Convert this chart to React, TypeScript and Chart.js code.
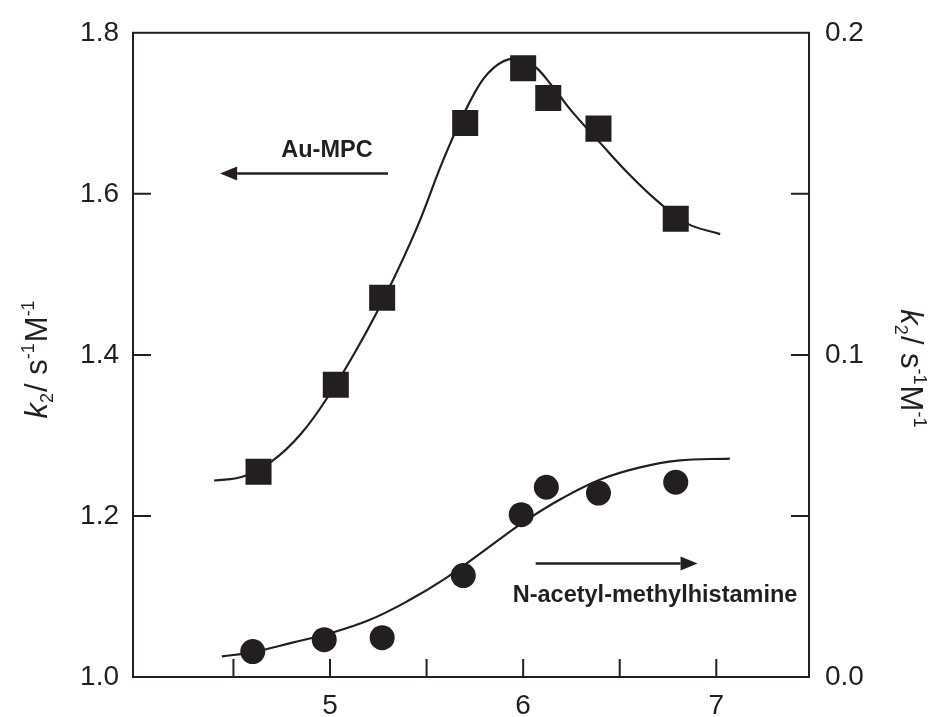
import React, { useEffect, useRef } from "react";
import { Chart, registerables } from "chart.js";

Chart.register(...registerables);

// ---- data (x = pH) ----
const squareX = [4.63, 5.03, 5.27, 5.7, 6.0, 6.13, 6.39, 6.79];
const squareY = [1.255, 1.363, 1.471, 1.688, 1.756, 1.719, 1.681, 1.569];

const circleX = [4.6, 4.97, 5.27, 5.69, 5.99, 6.12, 6.39, 6.79];
const circleY = [0.0079, 0.0116, 0.0122, 0.0315, 0.0504, 0.0589, 0.0571, 0.0605];

const fitAuX = [4.4, 4.55, 4.7, 4.85, 5.0, 5.15, 5.3, 5.45, 5.6, 5.75, 5.85, 5.95, 6.05, 6.15, 6.25, 6.4, 6.55, 6.7, 6.85, 7.02];
const fitAuY = [1.244, 1.249, 1.268, 1.302, 1.352, 1.412, 1.48, 1.558, 1.65, 1.726, 1.757, 1.768, 1.76, 1.734, 1.703, 1.663, 1.624, 1.59, 1.563, 1.55];

const fitNX = [4.44, 4.6, 4.8, 5.0, 5.2, 5.4, 5.6, 5.8, 6.0, 6.2, 6.4, 6.6, 6.8, 7.07];
const fitNY = [0.0064, 0.0077, 0.0106, 0.0136, 0.0176, 0.0235, 0.0307, 0.0393, 0.048, 0.0554, 0.0613, 0.065, 0.0672, 0.0678];

const xTicks = [4.5, 5, 5.5, 6, 6.5, 7];
const xTickLabels = ["", "5", "", "6", "", "7"];
const yLeftTicks = [1.0, 1.2, 1.4, 1.6, 1.8];
const yRightTicks = [0, 0.05, 0.1, 0.15, 0.2];
const yRightLabels = ["0.0", "", "0.1", "", "0.2"];

// annotations (data units: x = pH, y = left axis)
const auLabel = { text: "Au-MPC", x: 4.984, y: 1.654 };
const auArrow = { from: 5.3, to: 4.431, y: 1.6253 };
const naLabel = { text: "N-acetyl-methylhistamine", x: 5.946, y: 1.1014 };
const naArrow = { from: 6.065, to: 6.903, y: 1.1408 };

const INK = "#231f20";
const FAM = '"Liberation Sans", Arial, Helvetica, sans-serif';

type Part = { text: string; italic?: boolean; script?: "sub" | "sup" };
const titleParts: Part[] = [
  { text: "k", italic: true },
  { text: "2", script: "sub" },
  { text: "/ s" },
  { text: "-1", script: "sup" },
  { text: "M" },
  { text: "-1", script: "sup" },
];

function drawRich(ctx: CanvasRenderingContext2D, parts: Part[], size: number, cx: number, cy: number, rot: number) {
  ctx.save();
  ctx.translate(cx, cy);
  ctx.rotate(rot);
  ctx.fillStyle = INK;
  ctx.textAlign = "left";
  ctx.textBaseline = "alphabetic";
  const widths: number[] = [];
  let total = 0;
  const fontOf = (p: Part) => `${p.italic ? "italic " : ""}${p.script ? Math.round(size * 0.58) : size}px ${FAM}`;
  for (const p of parts) {
    ctx.font = fontOf(p);
    const w = ctx.measureText(p.text).width + (p.script ? 1 : 0);
    widths.push(w);
    total += w;
  }
  let x = -total / 2;
  const base = size * 0.36;
  parts.forEach((p, i) => {
    ctx.font = fontOf(p);
    let y = base;
    if (p.script === "sub") y += size * 0.2;
    if (p.script === "sup") y -= size * 0.42;
    ctx.fillText(p.text, x, y);
    x += widths[i];
  });
  ctx.restore();
}

function drawArrow(ctx: CanvasRenderingContext2D, x1: number, x2: number, y: number) {
  const dir = x2 > x1 ? 1 : -1;
  const headL = 17;
  const headH = 7;
  ctx.save();
  ctx.strokeStyle = INK;
  ctx.fillStyle = INK;
  ctx.lineWidth = 2.5;
  ctx.beginPath();
  ctx.moveTo(x1, y);
  ctx.lineTo(x2 - dir * headL, y);
  ctx.stroke();
  ctx.beginPath();
  ctx.moveTo(x2, y);
  ctx.lineTo(x2 - dir * headL, y - headH);
  ctx.lineTo(x2 - dir * headL, y + headH);
  ctx.closePath();
  ctx.fill();
  ctx.restore();
}

const framePlugin = {
  id: "frame",
  afterDraw(chart: any) {
    const ctx: CanvasRenderingContext2D = chart.ctx;
    const a = chart.chartArea;
    const xs = chart.scales.x;
    const yl = chart.scales.y;
    const yr = chart.scales.y2;
    ctx.save();
    ctx.strokeStyle = INK;
    ctx.lineWidth = 2;
    ctx.strokeRect(a.left, a.top, a.right - a.left, a.bottom - a.top);
    const T = 18;
    ctx.beginPath();
    for (const v of xTicks) {
      const px = xs.getPixelForValue(v);
      ctx.moveTo(px, a.bottom);
      ctx.lineTo(px, a.bottom - T);
    }
    for (const v of yLeftTicks) {
      if (v === yl.min || v === yl.max) continue;
      const py = yl.getPixelForValue(v);
      ctx.moveTo(a.left, py);
      ctx.lineTo(a.left + T, py);
    }
    for (const v of yRightTicks) {
      if (v === yr.min || v === yr.max) continue;
      const py = yr.getPixelForValue(v);
      ctx.moveTo(a.right, py);
      ctx.lineTo(a.right - T, py);
    }
    ctx.stroke();
    ctx.restore();

    // annotations
    ctx.save();
    ctx.fillStyle = INK;
    ctx.font = `bold 23.5px ${FAM}`;
    ctx.textBaseline = "middle";
    ctx.textAlign = "center";
    ctx.fillText(auLabel.text, xs.getPixelForValue(auLabel.x), yl.getPixelForValue(auLabel.y));
    ctx.textAlign = "left";
    ctx.fillText(naLabel.text, xs.getPixelForValue(naLabel.x), yl.getPixelForValue(naLabel.y));
    ctx.restore();
    drawArrow(ctx, xs.getPixelForValue(auArrow.from), xs.getPixelForValue(auArrow.to), yl.getPixelForValue(auArrow.y));
    drawArrow(ctx, xs.getPixelForValue(naArrow.from), xs.getPixelForValue(naArrow.to), yl.getPixelForValue(naArrow.y));

    // axis titles
    const midY = (a.top + a.bottom) / 2;
    drawRich(ctx, titleParts, 31, a.left - 97, midY + 4, -Math.PI / 2);
    drawRich(ctx, titleParts, 31, a.right + 103, midY + 14, Math.PI / 2);
  },
};

export default function App() {
  const ref = useRef<HTMLCanvasElement | null>(null);
  useEffect(() => {
    document.body.style.margin = "0";
    const canvas = ref.current;
    if (!canvas) return;
    const toPts = (xs: number[], ys: number[]) => xs.map((x, i) => ({ x, y: ys[i] }));
    const tickFont = { family: FAM, size: 28 };
    const chart = new Chart(canvas, {
      type: "scatter",
      data: {
        datasets: [
          {
            type: "line",
            data: toPts(fitAuX, fitAuY),
            yAxisID: "y",
            borderColor: INK,
            borderWidth: 2.2,
            pointRadius: 0,
            tension: 0.4,
            fill: false,
          },
          {
            type: "line",
            data: toPts(fitNX, fitNY),
            yAxisID: "y2",
            borderColor: INK,
            borderWidth: 2.2,
            pointRadius: 0,
            tension: 0.4,
            fill: false,
          },
          {
            data: toPts(squareX, squareY),
            yAxisID: "y",
            pointStyle: "rect",
            pointRadius: 18.4,
            backgroundColor: INK,
            borderColor: INK,
            borderWidth: 0,
            showLine: false,
          },
          {
            data: toPts(circleX, circleY),
            yAxisID: "y2",
            pointStyle: "circle",
            pointRadius: 12.5,
            backgroundColor: INK,
            borderColor: INK,
            borderWidth: 0,
            showLine: false,
          },
        ] as any,
      },
      options: {
        animation: false,
        responsive: true,
        maintainAspectRatio: false,
        layout: { padding: { top: 22, left: 0, right: 0, bottom: 0 } },
        plugins: { legend: { display: false }, tooltip: { enabled: false } },
        scales: {
          x: {
            type: "linear",
            min: 3.98,
            max: 7.48,
            grid: { display: false, drawTicks: false },
            border: { display: false },
            afterBuildTicks: (s: any) => {
              s.ticks = xTicks.map((v) => ({ value: v }));
            },
            afterFit: (s: any) => {
              s.height = 40;
            },
            ticks: {
              padding: 12,
              color: INK,
              font: tickFont,
              maxRotation: 0,
              autoSkip: false,
              callback: (v: any) => {
                const i = xTicks.indexOf(Number(v));
                return i >= 0 ? xTickLabels[i] : "";
              },
            },
          },
          y: {
            type: "linear",
            position: "left",
            min: 1.0,
            max: 1.8,
            grid: { display: false, drawTicks: false },
            border: { display: false },
            afterBuildTicks: (s: any) => {
              s.ticks = yLeftTicks.map((v) => ({ value: v }));
            },
            afterFit: (s: any) => {
              s.width = 133;
            },
            ticks: {
              padding: 14,
              color: INK,
              font: tickFont,
              callback: (v: any) => Number(v).toFixed(1),
            },
          },
          y2: {
            type: "linear",
            position: "right",
            min: 0,
            max: 0.2,
            grid: { display: false, drawTicks: false },
            border: { display: false },
            afterBuildTicks: (s: any) => {
              s.ticks = yRightTicks.map((v) => ({ value: v }));
            },
            afterFit: (s: any) => {
              s.width = 123;
            },
            ticks: {
              padding: 16,
              color: INK,
              font: tickFont,
              autoSkip: false,
              callback: (v: any) => {
                const i = yRightTicks.findIndex((t) => Math.abs(t - Number(v)) < 1e-9);
                return i >= 0 ? yRightLabels[i] : "";
              },
            },
          },
        },
      } as any,
      plugins: [framePlugin],
    });
    return () => chart.destroy();
  }, []);
  return (
    <div style={{ width: 932, height: 717, position: "relative", background: "#fff" }}>
      <canvas ref={ref} />
    </div>
  );
}
